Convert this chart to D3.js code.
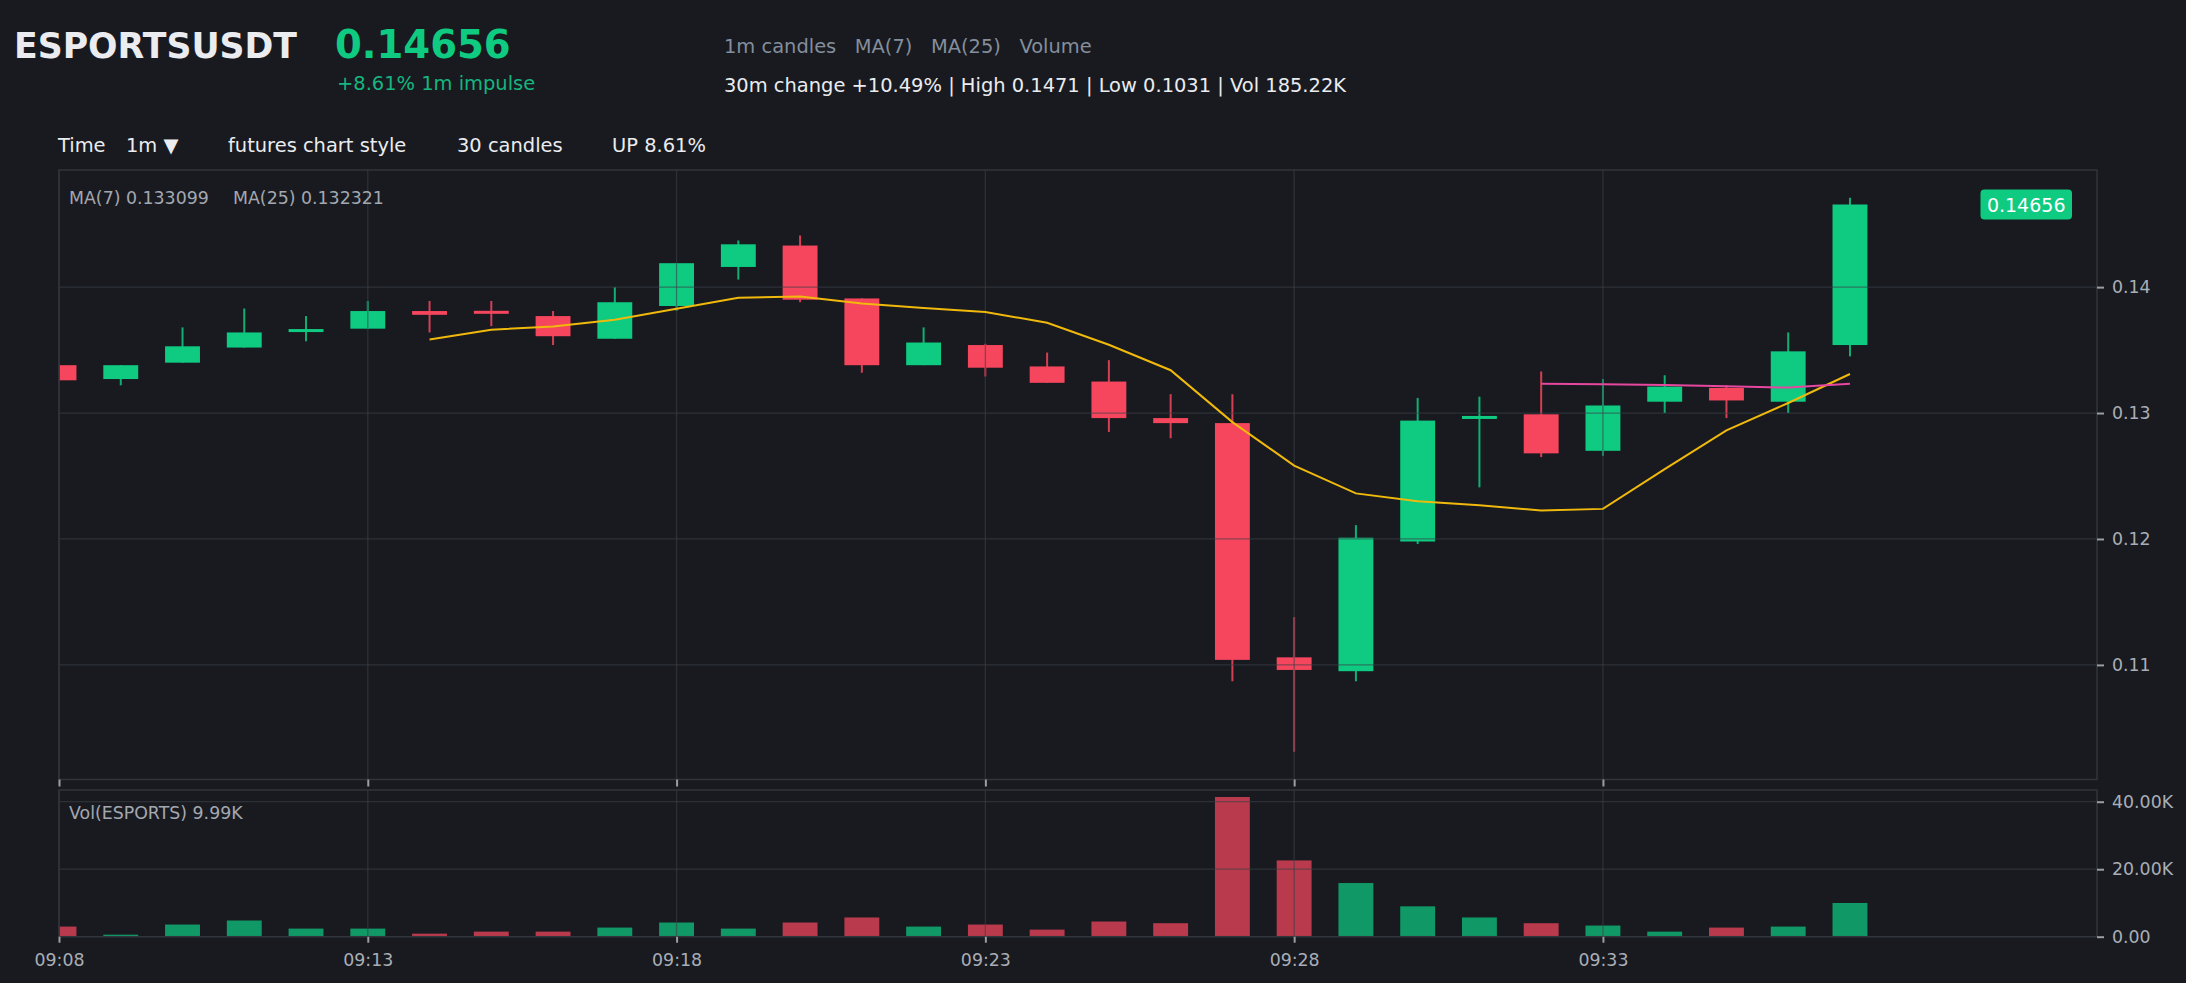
<!DOCTYPE html>
<html>
<head>
<meta charset="utf-8">
<script src="https://cdn.jsdelivr.net/npm/d3@7/dist/d3.min.js"></script>
<style>
  body { margin: 0; background: #181a20; overflow: hidden; }
  svg text { font-family: 'DejaVu Sans', sans-serif; }
</style>
</head>
<body>
<div id="chart"></div>
<script>
// 1m candles, 09:08 -> 09:37
var times = ['09:08','09:09','09:10','09:11','09:12','09:13','09:14','09:15','09:16','09:17',
             '09:18','09:19','09:20','09:21','09:22','09:23','09:24','09:25','09:26','09:27',
             '09:28','09:29','09:30','09:31','09:32','09:33','09:34','09:35','09:36','09:37']
var opens  = [0.1338,0.1327,0.1340,0.1352,0.1365,0.1367,0.1381,0.1381,0.1377,0.1359,
              0.1385,0.1416,0.1433,0.1391,0.1338,0.1354,0.1337,0.1325,0.1296,0.1292,
              0.1106,0.1095,0.1198,0.1296,0.1299,0.1270,0.1309,0.1320,0.1309,0.1354]
var highs  = [0.1339,0.1338,0.1368,0.1383,0.1377,0.1389,0.1389,0.1389,0.1381,0.1400,
              0.1419,0.1437,0.1441,0.1391,0.1368,0.1355,0.1348,0.1342,0.1315,0.1315,
              0.1138,0.1211,0.1312,0.1313,0.1333,0.1327,0.1330,0.1322,0.1364,0.1471]
var lows   = [0.1325,0.1322,0.1340,0.1352,0.1357,0.1367,0.1364,0.1369,0.1354,0.1359,
              0.1381,0.1406,0.1388,0.1332,0.1338,0.1329,0.1324,0.1285,0.1280,0.1087,
              0.1031,0.1087,0.1196,0.1241,0.1265,0.1266,0.1300,0.1296,0.1300,0.1345]
var closes = [0.1326,0.1338,0.1353,0.1364,0.1366,0.1381,0.1378,0.1379,0.1361,0.1388,
              0.1419,0.1434,0.1390,0.1338,0.1356,0.1336,0.1324,0.1296,0.1292,0.1104,
              0.1096,0.1201,0.1294,0.1297,0.1268,0.1306,0.1321,0.1310,0.1349,0.14656]
var volumes = [3000,600,3600,4800,2400,2400,900,1500,1500,2700,
               4200,2400,4200,5700,3000,3600,2100,4500,4000,41400,
               22600,15900,9000,5700,4000,3300,1500,2700,3000,9990]
var ma7 = [null,null,null,null,null,null,0.13584,0.13662,0.13688,0.13740,
           0.13828,0.13915,0.13925,0.13870,0.13834,0.13802,0.13717,0.13542,0.13340,0.12928,
           0.12583,0.12362,0.12300,0.12268,0.12226,0.12239,0.12554,0.12863,0.13080,0.13310]
var ma25 = [null,null,null,null,null,null,null,null,null,null,
            null,null,null,null,null,null,null,null,null,null,
            null,null,null,null,0.13232,0.13228,0.13222,0.13212,0.13202,0.13232]
var priceTicks = [0.11, 0.12, 0.13, 0.14]
var volTicks = [0, 20000, 40000]
var timeTicks = ['09:08','09:13','09:18','09:23','09:28','09:33']
var timeEnd = '09:41'

var green = '#0ecb81', red = '#f6465d'
var gridColor = '#3c4048', frameColor = '#30343b', axisText = '#a9aeb6'
var headSize = '19.45px', smallSize = '17.36px'

var parseTime = d3.timeParse('%H:%M')
var candles = times.map(function (t, i) {
  return { t: parseTime(t), o: opens[i], h: highs[i], l: lows[i], c: closes[i], v: volumes[i], up: closes[i] >= opens[i] }
})

// panel geometry
var left = 59, right = 2097
var pTop = 170, pBottom = 779.5
var vTop = 790, vBottom = 936.7

var svg = d3.select('#chart')
  .append('svg')
  .attr('width', 2186)
  .attr('height', 983)

svg.append('rect').attr('width', 2186).attr('height', 983).attr('fill', '#181a20')

// scales
var x = d3.scaleTime()
  .domain([parseTime(times[0]), parseTime(timeEnd)])
  .range([left, right])
var step = x(candles[1].t) - x(candles[0].t)
var bodyW = step * 0.565

var lo = d3.min(lows), hi = d3.max(highs), pad = (hi - lo) * 0.05
var y = d3.scaleLinear().domain([lo - pad, hi + pad]).range([pBottom, pTop])
var yv = d3.scaleLinear().domain([0, d3.max(volumes) * 1.05]).range([vBottom, vTop])

// clip paths
var defs = svg.append('defs')
defs.append('clipPath').attr('id', 'clipPrice')
  .append('rect').attr('x', left).attr('y', pTop).attr('width', right - left).attr('height', pBottom - pTop)
defs.append('clipPath').attr('id', 'clipVol')
  .append('rect').attr('x', left).attr('y', vTop).attr('width', right - left).attr('height', vBottom - vTop)

// ---------- header ----------
svg.append('text').attr('x', 14).attr('y', 58)
  .style('font-size', '34.7px').style('font-weight', 'bold').attr('fill', '#eaecef')
  .text('ESPORTSUSDT')
svg.append('text').attr('x', 335).attr('y', 57.5)
  .style('font-size', '38.6px').style('font-weight', 'bold').attr('fill', green)
  .text('0.14656')
svg.append('text').attr('x', 337).attr('y', 90)
  .style('font-size', headSize).attr('fill', '#16b57f')
  .text('+8.61% 1m impulse')
svg.append('text').attr('x', 724).attr('y', 53)
  .style('font-size', headSize).style('white-space', 'pre').attr('fill', '#848e9c')
  .text('1m candles   MA(7)   MA(25)   Volume')
svg.append('text').attr('x', 724).attr('y', 91.5)
  .style('font-size', headSize).attr('fill', '#eaecef')
  .text('30m change +10.49% | High 0.1471 | Low 0.1031 | Vol 185.22K')

// toolbar
var toolbar = [
  { x: 58, t: 'Time' },
  { x: 126, t: '1m \u25BC' },
  { x: 228, t: 'futures chart style' },
  { x: 457, t: '30 candles' },
  { x: 612, t: 'UP 8.61%' }
]
svg.append('g').selectAll('text')
  .data(toolbar)
  .enter()
  .append('text')
  .attr('x', function (d) { return d.x })
  .attr('y', 152)
  .style('font-size', headSize)
  .attr('fill', '#eaecef')
  .text(function (d) { return d.t })

// ---------- price panel ----------
var pricePanel = svg.append('g')

// candles
var candleG = pricePanel.append('g').attr('clip-path', 'url(#clipPrice)')
candleG.selectAll('line.wick')
  .data(candles)
  .enter()
  .append('line')
  .attr('class', 'wick')
  .attr('x1', function (d) { return x(d.t) })
  .attr('x2', function (d) { return x(d.t) })
  .attr('y1', function (d) { return y(d.h) })
  .attr('y2', function (d) { return y(d.l) })
  .attr('stroke', function (d) { return d.up ? green : red })
  .attr('stroke-width', 2)
  .attr('stroke-opacity', 0.85)
candleG.selectAll('rect.body')
  .data(candles)
  .enter()
  .append('rect')
  .attr('class', 'body')
  .attr('x', function (d) { return x(d.t) - bodyW / 2 })
  .attr('width', bodyW)
  .attr('y', function (d) {
    var top = y(Math.max(d.o, d.c)), h = Math.abs(y(d.o) - y(d.c))
    return h < 3 ? (top + h / 2 - 1.5) : top
  })
  .attr('height', function (d) { return Math.max(3, Math.abs(y(d.o) - y(d.c))) })
  .attr('fill', function (d) { return d.up ? green : red })

// grid over the candles, like the reference
pricePanel.append('g').selectAll('line')
  .data(priceTicks)
  .enter()
  .append('line')
  .attr('x1', left).attr('x2', right)
  .attr('y1', function (d) { return y(d) }).attr('y2', function (d) { return y(d) })
  .attr('stroke', gridColor).attr('stroke-opacity', 0.6).attr('stroke-width', 1.3)
pricePanel.append('g').selectAll('line')
  .data(timeTicks)
  .enter()
  .append('line')
  .attr('x1', function (d) { return x(parseTime(d)) }).attr('x2', function (d) { return x(parseTime(d)) })
  .attr('y1', pTop).attr('y2', pBottom)
  .attr('stroke', gridColor).attr('stroke-opacity', 0.6).attr('stroke-width', 1.3)

// moving averages
var line = d3.line()
  .defined(function (d) { return d.v != null })
  .x(function (d) { return x(d.t) })
  .y(function (d) { return y(d.v) })
pricePanel.append('path')
  .datum(candles.map(function (c, i) { return { t: c.t, v: ma7[i] } }))
  .attr('d', line)
  .attr('fill', 'none')
  .attr('stroke', '#f0b90b')
  .attr('stroke-width', 2)
pricePanel.append('path')
  .datum(candles.map(function (c, i) { return { t: c.t, v: ma25[i] } }))
  .attr('d', line)
  .attr('fill', 'none')
  .attr('stroke', '#e6479f')
  .attr('stroke-width', 2)

// frame
pricePanel.append('rect')
  .attr('x', left).attr('y', pTop).attr('width', right - left).attr('height', pBottom - pTop)
  .attr('fill', 'none').attr('stroke', frameColor).attr('stroke-width', 1.5)

// MA legend
svg.append('text').attr('x', 69).attr('y', 203.5)
  .style('font-size', smallSize).attr('fill', '#a3a8b0')
  .text('MA(7) 0.133099')
svg.append('text').attr('x', 233).attr('y', 203.5)
  .style('font-size', smallSize).attr('fill', '#a3a8b0')
  .text('MA(25) 0.132321')

// Y axis (price)
var yAxis = svg.append('g')
  .attr('transform', 'translate(' + right + ',0)')
  .call(d3.axisRight(y).tickValues(priceTicks).tickSize(7).tickPadding(8).tickFormat(d3.format('.2f')))
yAxis.select('.domain').remove()
yAxis.selectAll('line').attr('stroke', '#9a9ea5').attr('stroke-width', 2)
yAxis.selectAll('text').attr('fill', axisText).style('font-size', smallSize)

// last price tag
var last = candles[candles.length - 1]
svg.append('rect')
  .attr('x', right - 116.5).attr('y', y(last.c) - 15)
  .attr('width', 91.5).attr('height', 30).attr('rx', 4)
  .attr('fill', green)
svg.append('text')
  .attr('x', right - 70.8).attr('y', y(last.c))
  .attr('text-anchor', 'middle').attr('dominant-baseline', 'central')
  .style('font-size', '19px').attr('fill', '#ffffff')
  .text(d3.format('.5f')(last.c))

// ticks under the price panel
var xTop = svg.append('g')
  .attr('transform', 'translate(0,' + pBottom + ')')
  .call(d3.axisBottom(x).tickValues(timeTicks.map(parseTime)).tickSize(7).tickFormat(''))
xTop.select('.domain').remove()
xTop.selectAll('line').attr('stroke', '#9a9ea5').attr('stroke-width', 2)

// ---------- volume panel ----------
var volPanel = svg.append('g')
volPanel.append('g').attr('clip-path', 'url(#clipVol)')
  .selectAll('rect')
  .data(candles)
  .enter()
  .append('rect')
  .attr('x', function (d) { return x(d.t) - bodyW / 2 })
  .attr('width', bodyW)
  .attr('y', function (d) { return yv(d.v) })
  .attr('height', function (d) { return vBottom - yv(d.v) })
  .attr('fill', function (d) { return d.up ? green : red })
  .attr('fill-opacity', 0.72)

volPanel.append('g').selectAll('line')
  .data(volTicks)
  .enter()
  .append('line')
  .attr('x1', left).attr('x2', right)
  .attr('y1', function (d) { return yv(d) }).attr('y2', function (d) { return yv(d) })
  .attr('stroke', gridColor).attr('stroke-opacity', 0.6).attr('stroke-width', 1.3)
volPanel.append('g').selectAll('line')
  .data(timeTicks)
  .enter()
  .append('line')
  .attr('x1', function (d) { return x(parseTime(d)) }).attr('x2', function (d) { return x(parseTime(d)) })
  .attr('y1', vTop).attr('y2', vBottom)
  .attr('stroke', gridColor).attr('stroke-opacity', 0.6).attr('stroke-width', 1.3)
volPanel.append('rect')
  .attr('x', left).attr('y', vTop).attr('width', right - left).attr('height', vBottom - vTop)
  .attr('fill', 'none').attr('stroke', frameColor).attr('stroke-width', 1.5)

svg.append('text').attr('x', 69).attr('y', 819)
  .style('font-size', smallSize).attr('fill', '#a3a8b0')
  .text('Vol(ESPORTS) 9.99K')

// Y axis (volume)
var vAxis = svg.append('g')
  .attr('transform', 'translate(' + right + ',0)')
  .call(d3.axisRight(yv).tickValues(volTicks).tickSize(7).tickPadding(8)
    .tickFormat(function (d) { return d === 0 ? '0.00' : (d / 1000).toFixed(2) + 'K' }))
vAxis.select('.domain').remove()
vAxis.selectAll('line').attr('stroke', '#9a9ea5').attr('stroke-width', 2)
vAxis.selectAll('text').attr('fill', axisText).style('font-size', smallSize)

// X axis with time labels
var xAxis = svg.append('g')
  .attr('transform', 'translate(0,' + vBottom + ')')
  .call(d3.axisBottom(x).tickValues(timeTicks.map(parseTime)).tickSize(6).tickPadding(11)
    .tickFormat(d3.timeFormat('%H:%M')))
xAxis.select('.domain').remove()
xAxis.selectAll('line').attr('stroke', '#9a9ea5').attr('stroke-width', 2)
xAxis.selectAll('text').attr('fill', axisText).style('font-size', smallSize)
</script>
</body>
</html>
